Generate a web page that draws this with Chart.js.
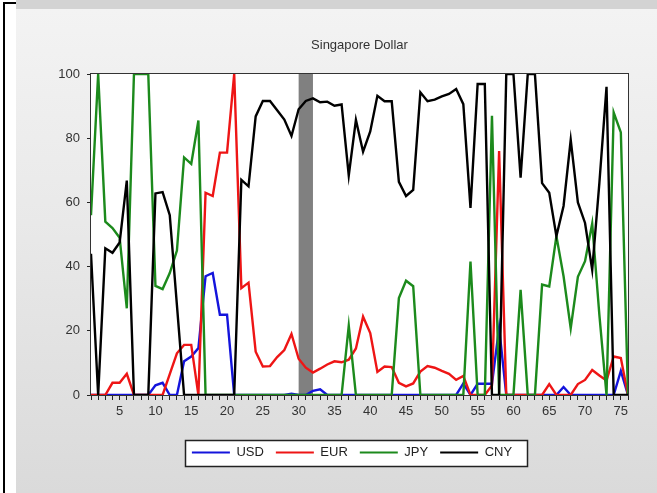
<!DOCTYPE html>
<html>
<head>
<meta charset="utf-8">
<script src="https://cdn.jsdelivr.net/npm/chart.js@4/dist/chart.umd.min.js"></script>
<style>
  html, body { margin: 0; padding: 0; }
  body { width: 657px; height: 493px; position: relative; overflow: hidden; background: #ffffff; font-family: "Liberation Sans", Arial, sans-serif; }
  #rule-v { position: absolute; left: 3px; top: 2px; width: 2px; height: 491px; background: #000; }
  #rule-h { position: absolute; left: 3px; top: 2px; width: 13px; height: 2px; background: #000; }
  #panel { position: absolute; left: 16px; top: 0; width: 641px; height: 493px;
           background: linear-gradient(to bottom, #d3d3d3 0, #d3d3d3 9px, #f3f3f3 9px, #e9e9e9 45%, #dadada 100%); }
  #wrap { position: absolute; left: 16px; top: 9px; width: 641px; height: 484px; }
</style>
</head>
<body>
<div id="rule-v"></div>
<div id="rule-h"></div>
<div id="panel"></div>
<div id="wrap"><canvas id="chart" width="641" height="484"></canvas></div>
<script>
// Periods 1..76 along the horizontal axis
const periods = Array.from({ length: 76 }, (_, i) => i + 1);

// Share of each currency (0-100)
const usd = [0, 0, 0, 0, 0, 0, 0, 0, 0, 3, 3.8, 0, 0, 10.5, 12, 14.6, 37, 38, 25, 25,
  0, 0, 0, 0, 0, 0, 0, 0, 0.4, 0, 0, 1.3, 1.8, 0, 0, 0, 0, 0, 0, 0,
  0, 0, 0, 0, 0, 0, 0, 0, 0, 0, 0, 0, 3.6, 0, 3.5, 3.5, 3.5, 21, 0, 0,
  0, 0, 0, 0, 0, 0, 2.5, 0, 0, 0, 0, 0, 0, 0, 7.5, 0];

const eur = [0, 0, 0, 3.8, 3.8, 6.6, 0, 0, 0, 0, 0, 6.5, 13, 15.6, 15.6, 0, 63, 62, 75.5, 75.5,
  100, 33.3, 35, 13.5, 8.9, 9, 11.8, 14, 19, 11.3, 8.5, 7, 8.2, 9.5, 10.5, 10.2, 11, 14.5, 24.4, 19.3,
  7.2, 8.9, 8.7, 3.8, 2.7, 3.6, 7.3, 9, 8.5, 7.5, 6.6, 4.7, 5.9, 0, 0, 0, 3, 76, 0, 0,
  0, 0, 0, 0, 3.4, 0, 0, 0, 3.4, 4.7, 7.8, 6.1, 4.5, 12, 11.5, 0];

const jpy = [56, 100, 54, 52, 49, 27, 100, 100, 100, 34, 33, 38, 45, 74, 72, 85.5, 0, 0, 0, 0,
  0, 0, 0, 0, 0, 0, 0, 0, 0, 0, 0, 0, 0, 0, 0, 0, 21.6, 0, 0, 0,
  0, 0, 0, 30.2, 35.6, 33.9, 0, 0, 0, 0, 0, 0, 0, 41.6, 0, 0, 87, 0, 0, 0,
  32.8, 0, 0, 34.4, 33.8, 49.5, 37, 20.8, 36.8, 41.7, 53.4, 25, 0, 88, 81.8, 0];

const cny = [44, 0, 45.7, 44.3, 47.5, 66.8, 0, 0, 0, 62.8, 63.2, 56, 28, 0, 0, 0, 0, 0, 0, 0,
  0, 67, 65, 86.8, 91.6, 91.6, 88.7, 85.8, 80.7, 89, 91.6, 92.4, 91.2, 91.4, 90.1, 90.5, 68.4, 85.7, 75.8, 82.1,
  93.2, 91.5, 91.5, 66.4, 62, 63.9, 94.3, 91.5, 92, 93, 93.8, 95.3, 90.6, 58.3, 96.9, 96.9, 0, 0, 100, 100,
  67.7, 100, 100, 66, 63, 49.5, 58.9, 79.5, 60, 53.6, 39, 66, 96, 0, 0, 0];

// Shaded period on the plot
const shadedPeriod = [30, 32];

const yTicks = [0, 20, 40, 60, 80, 100];

const toPoints = arr => arr.map((v, i) => ({ x: periods[i], y: v }));

const plotDecor = {
  id: 'plotDecor',
  afterLayout(chart) {
    // keep the legend row centred under the plot frame
    const lg = chart.legend;
    if (lg) { lg.left += 30; lg.right += 30; }
  },
  beforeDraw(chart) {
    const { ctx, chartArea: a } = chart;
    ctx.save();
    ctx.fillStyle = '#ffffff';
    ctx.fillRect(a.left, a.top, a.right - a.left, a.bottom - a.top);
    // legend frame
    const hb = chart.legend && chart.legend.legendHitBoxes;
    if (hb && hb.length) {
      const first = hb[0], last = hb[hb.length - 1];
      const lx = Math.round(first.left - 7) + 0.5;
      const rx = Math.round(last.left + last.width + 15) + 0.5;
      const ty = Math.round(first.top - 6) + 0.5;
      ctx.fillStyle = '#ffffff';
      ctx.fillRect(lx, ty, rx - lx, 26);
      ctx.strokeStyle = '#222222';
      ctx.lineWidth = 1.5;
      ctx.strokeRect(lx, ty, rx - lx, 26);
    }
    ctx.restore();
  },
  beforeDatasetsDraw(chart) {
    const { ctx, chartArea: a, scales: { x } } = chart;
    ctx.save();
    const x0 = x.getPixelForValue(shadedPeriod[0]);
    const x1 = x.getPixelForValue(shadedPeriod[1]);
    ctx.fillStyle = '#808080';
    ctx.fillRect(x0, a.top, x1 - x0, a.bottom - a.top);
    ctx.strokeStyle = '#333333';
    ctx.lineWidth = 1;
    ctx.strokeRect(Math.round(a.left) - 0.5, Math.round(a.top) - 0.5,
                   Math.round(a.right - a.left) + 1, Math.round(a.bottom - a.top) + 1);
    ctx.restore();
  }
};

const font = { family: '"Liberation Sans", Arial, sans-serif' };

new Chart(document.getElementById('chart'), {
  type: 'line',
  data: {
    datasets: [
      { label: 'USD', data: toPoints(usd), borderColor: '#1414dc', backgroundColor: '#1414dc', order: 4 },
      { label: 'EUR', data: toPoints(eur), borderColor: '#ee1515', backgroundColor: '#ee1515', order: 3 },
      { label: 'JPY', data: toPoints(jpy), borderColor: '#1c8a1c', backgroundColor: '#1c8a1c', order: 2 },
      { label: 'CNY', data: toPoints(cny), borderColor: '#000000', backgroundColor: '#000000', order: 1 }
    ]
  },
  options: {
    responsive: false,
    animation: false,
    devicePixelRatio: 1,
    layout: { padding: { left: 0, right: 29, top: 0, bottom: 24 } },
    elements: {
      line: { borderWidth: 2.4, tension: 0 },
      point: { radius: 0, hoverRadius: 0 }
    },
    plugins: {
      tooltip: { enabled: false },
      title: {
        display: true,
        text: 'Singapore Dollar',
        fullSize: false,
        color: '#333333',
        font: { ...font, size: 13, weight: 'normal' },
        padding: { top: 29, bottom: 20.4 }
      },
      legend: {
        position: 'bottom',
        labels: {
          boxWidth: 38,
          boxHeight: 2,
          padding: 12,
          color: '#222222',
          font: { ...font, size: 13 },
          sort: (a, b) => a.datasetIndex - b.datasetIndex,
          generateLabels(chart) {
            return Chart.defaults.plugins.legend.labels.generateLabels(chart)
              .map(item => Object.assign(item, { lineWidth: 0 }));
          }
        }
      }
    },
    scales: {
      x: {
        type: 'linear',
        min: 1,
        max: 76,
        afterFit(scale) { scale.height = 39; },
        afterBuildTicks(scale) { scale.ticks = periods.map(p => ({ value: p })); },
        ticks: {
          autoSkip: false,
          maxRotation: 0,
          padding: 4,
          color: '#333333',
          font: { ...font, size: 13 },
          callback: v => (v % 5 === 0 ? String(v) : '')
        },
        grid: { drawOnChartArea: false, drawTicks: true, tickLength: 5, color: '#222222', lineWidth: 1 },
        border: { display: false }
      },
      y: {
        min: 0,
        max: 100,
        afterFit(scale) { scale.width = 75; },
        afterBuildTicks(scale) { scale.ticks = yTicks.map(v => ({ value: v })); },
        ticks: {
          padding: 7,
          color: '#333333',
          font: { ...font, size: 13 }
        },
        grid: { drawOnChartArea: false, drawTicks: true, tickLength: 4, color: '#222222', lineWidth: 1 },
        border: { display: false }
      }
    }
  },
  plugins: [plotDecor]
});
</script>
</body>
</html>
